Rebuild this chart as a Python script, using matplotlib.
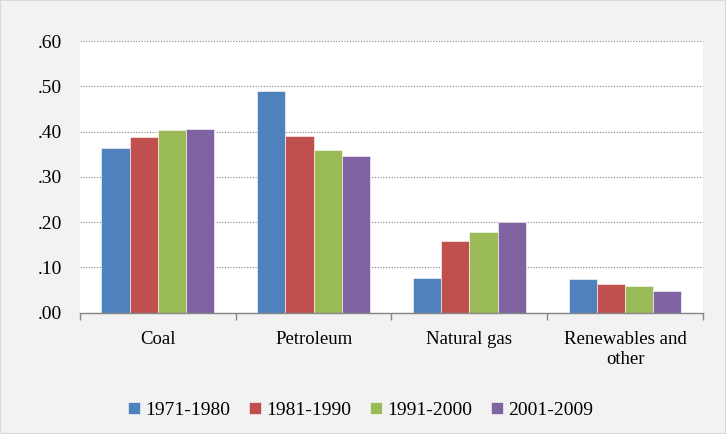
import numpy as np
import matplotlib
matplotlib.use('Agg')
from matplotlib import pyplot as plt
from matplotlib.patches import Rectangle

# data
categories = ['Coal', 'Petroleum', 'Natural gas', 'Renewables and\nother']
periods = ['1971-1980', '1981-1990', '1991-2000', '2001-2009']
v_1971 = [0.363, 0.489, 0.076, 0.074]
v_1981 = [0.389, 0.391, 0.158, 0.063]
v_1991 = [0.403, 0.359, 0.178, 0.059]
v_2001 = [0.406, 0.347, 0.201, 0.049]
yticks = [0.0, 0.1, 0.2, 0.3, 0.4, 0.5, 0.6]
ytick_labels = ['.00', '.10', '.20', '.30', '.40', '.50', '.60']

colors = ['#4F81BD', '#C0504D', '#9BBB59', '#8064A2']
series = [v_1971, v_1981, v_1991, v_2001]

plt.rcParams['font.family'] = ['Liberation Serif', 'DejaVu Serif']

fig = plt.figure(figsize=(7.26, 4.34), dpi=100, facecolor='#f2f2f2')
ax = fig.add_axes([0.1102, 0.2795, 0.858, 0.626])
ax.set_facecolor('white')

x = np.arange(len(categories))
w = 0.181
for i, (vals, col, lab) in enumerate(zip(series, colors, periods)):
  ax.bar(x + (i - 1.5) * w, vals, w, color=col, label=lab,
         edgecolor='white', linewidth=0.4, zorder=3)

ax.set_xlim(-0.5, 3.5)
ax.set_ylim(0, 0.6)
ax.set_yticks(yticks)
ax.set_yticklabels(ytick_labels, fontsize=14)
ax.tick_params(axis='y', length=0, pad=13)

# category labels centered, tick marks at boundaries
ax.set_xticks(x)
ax.set_xticklabels(categories, fontsize=13.5, linespacing=1.25)
ax.tick_params(axis='x', which='major', length=0, pad=13)
ax.set_xticks(np.arange(-0.5, 4, 1), minor=True)
ax.tick_params(axis='x', which='minor', length=5, color='#868686', width=1)

ax.grid(axis='y', linestyle=(0, (1, 1.5)), color='#808080', linewidth=0.8, zorder=0)
ax.set_axisbelow(True)
for s in ['top', 'right', 'left']:
  ax.spines[s].set_visible(False)
ax.spines['bottom'].set_color('#868686')
ax.spines['bottom'].set_linewidth(1)
ax.spines['bottom'].set_zorder(4)

fig.legend(loc='center', bbox_to_anchor=(0.497, 0.055), ncol=4, frameon=False,
           fontsize=14, handlelength=0.6, handleheight=0.6, handletextpad=0.3,
           columnspacing=0.95)

# thin border round the whole picture
fig.patches.append(Rectangle((0, 0), 1, 1, transform=fig.transFigure,
                             fill=False, edgecolor='#d9d9d9', linewidth=1.5))

fig.savefig('out.png', dpi=100, facecolor=fig.get_facecolor())
